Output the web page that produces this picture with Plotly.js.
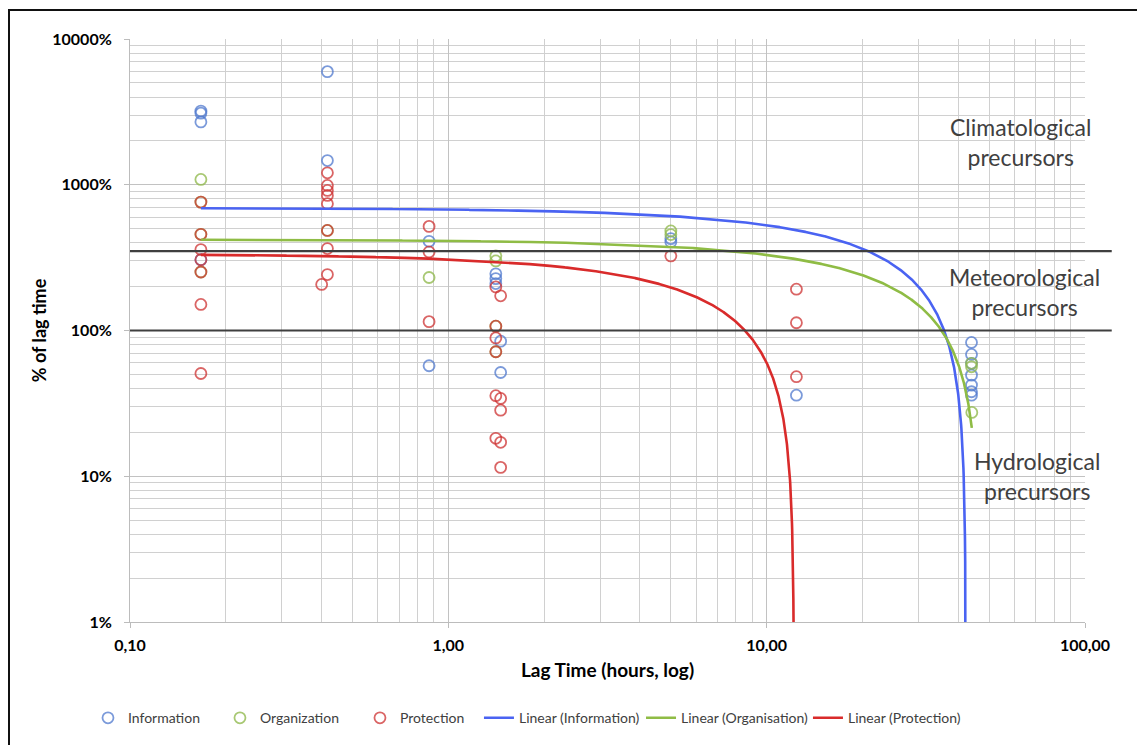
<!DOCTYPE html>
<html>
<head>
<meta charset="utf-8">
<script src="https://cdn.plot.ly/plotly-3.0.1.min.js"></script>
<style>
  html, body { margin: 0; padding: 0; background: #fff; }
  #chart { width: 1137px; height: 745px; }
  #frame { position: absolute; left: 8px; top: 9px; width: 1300px; height: 900px;
           border-top: 2px solid #111; border-left: 2px solid #111; pointer-events: none; }
</style>
</head>
<body>
<div id="chart"></div>
<div id="frame"></div>
<script>
// ---- Data (lag time in hours, % of lag time) ----
const infoX = [0.167, 0.167, 0.167, 0.167, 0.417, 0.417, 0.87, 0.87, 1.41, 1.41, 1.41, 1.46, 1.46, 5.0, 5.0, 12.4, 44, 44, 44, 44, 44, 44, 44];
const infoY = [3200, 3100, 2700, 306, 5970, 1466, 409, 57.3, 245, 227, 210, 84.5, 51.5, 427, 405, 36, 82.8, 68.5, 59.5, 49.4, 42.2, 38, 36];

const orgX = [0.167, 0.167, 0.167, 0.167, 0.417, 0.87, 1.41, 1.41, 1.41, 1.41, 5.0, 5.0, 44, 44, 44.1];
const orgY = [1087, 760, 457, 252, 486, 231, 325, 300, 107, 71.5, 482, 455, 59.5, 56.4, 27.4];

const protX = [0.167, 0.167, 0.167, 0.167, 0.167, 0.167, 0.167,
               0.417, 0.417, 0.417, 0.417, 0.417, 0.417, 0.417, 0.417, 0.40,
               0.87, 0.87, 0.87,
               1.41, 1.46, 1.41, 1.41, 1.41, 1.41, 1.46, 1.46, 1.41, 1.46, 1.46,
               5.0, 12.4, 12.4, 12.4];
const protY = [760, 457, 359, 306, 252, 151, 50.7,
               1208, 989, 914, 845, 741, 486, 365, 242, 207,
               518, 346, 115,
               199, 173, 107, 89, 71.5, 35.7, 34.2, 28.4, 18.2, 17.1, 11.5,
               325, 192, 113, 48.2];

// Linear trendlines (y = intercept - slope * x)
const trendNames = ['Linear (Information)', 'Linear (Organisation)', 'Linear (Protection)'];
const trendIntercept = [692, 421, 335];
const trendSlope = [16.4, 9.06, 27.5];
const trendXmin = [0.167, 0.167, 0.167];
const trendXmax = [44, 44.1, 12.4];

// Band boundaries (% of lag time)
const bandLines = [350, 100];
const bandLabels = ['Climatological<br>precursors', 'Meteorological<br>precursors', 'Hydrological<br>precursors'];

// Axis ticks
const xTickVals = [0.1, 1, 10, 100];
const xTickText = ['0,10', '1,00', '10,00', '100,00'];
const yTickVals = [1, 10, 100, 1000, 10000];
const yTickText = ['1%', '10%', '100%', '1000%', '10000%'];

// ---- Styles ----
const FONT = 'Lato, "Open Sans", "DejaVu Sans", sans-serif';
const markerColors = ['rgba(79,120,205,0.75)', 'rgba(146,186,80,0.8)', 'rgba(205,50,50,0.75)'];
const lineColors = ['#4a63f2', '#8fbc45', '#d92b2b'];

function trendLine(i) {
  const b = trendIntercept[i], m = trendSlope[i];
  const x0 = trendXmin[i];
  const root = b / m;
  const x1 = Math.min(trendXmax[i], root * 0.99995);
  const xs = [], ys = [];
  const N = 3000;
  for (let k = 0; k <= N; k++) {
    const x = x0 * Math.pow(x1 / x0, k / N);
    xs.push(x); ys.push(b - m * x);
  }
  return {xs, ys};
}

const mk = (x, y, name, c, lg) => ({
  x, y, name, type: 'scatter', mode: 'markers', cliponaxis: false, legend: lg,
  marker: {symbol: 'circle-open', size: 11, color: c, line: {width: 1.8, color: c}}
});

const traces = [
  mk(infoX, infoY, 'Information', markerColors[0], 'legend'),
  mk(orgX, orgY, 'Organization', markerColors[1], 'legend2'),
  mk(protX, protY, 'Protection', markerColors[2], 'legend3')
];
for (let i = 0; i < 3; i++) {
  const t = trendLine(i);
  traces.push({x: t.xs, y: t.ys, name: trendNames[i], type: 'scatter', mode: 'lines',
    legend: 'legend' + (i + 4),
    line: {color: lineColors[i], width: 2.6}});
}

const shapes = bandLines.map(v => ({
  type: 'line', xref: 'paper', yref: 'y', x0: 0, x1: 1.028, y0: v, y1: v,
  line: {color: '#3f3f3f', width: 2.2}, layer: 'above'
}));

const annPos = [[0.932, 0.8236], [0.937, 0.566], [0.950, 0.2509]];
const annotations = bandLabels.map((t, i) => ({
  text: t, xref: 'paper', yref: 'paper', x: annPos[i][0], y: annPos[i][1],
  xanchor: 'center', yanchor: 'middle', showarrow: false, align: 'center',
  font: {family: FONT, size: 23, color: '#404040'}
}));

const axisCommon = {
  type: 'log', showgrid: true, gridcolor: '#c2c2c2', gridwidth: 1,
  showline: true, linecolor: '#bcbcbc', linewidth: 1,
  ticks: 'outside', ticklen: 5, tickcolor: '#bcbcbc',
  tickmode: 'array', zeroline: false,
  tickfont: {family: FONT, size: 16, color: '#000', weight: 'bold'},
  minor: {dtick: 'D1', showgrid: true, gridcolor: '#d0d0d0', gridwidth: 1, ticks: ''}
};

const legendFont = {family: FONT, size: 14, color: '#404040'};
const legendPos = [-0.044, 0.0942, 0.2408, 0.3654, 0.5351, 0.7099];
const mkLegend = x => ({orientation: 'h', x: x, xanchor: 'left', y: -0.163, yanchor: 'middle',
  font: legendFont, itemwidth: 30, bgcolor: 'rgba(0,0,0,0)'});

const layout = {
  width: 1137, height: 745,
  margin: {l: 130, r: 52, t: 39, b: 122},
  paper_bgcolor: '#fff', plot_bgcolor: '#fff',
  showlegend: true,
  legend: mkLegend(legendPos[0]),
  legend2: mkLegend(legendPos[1]),
  legend3: mkLegend(legendPos[2]),
  legend4: mkLegend(legendPos[3]),
  legend5: mkLegend(legendPos[4]),
  legend6: mkLegend(legendPos[5]),
  xaxis: Object.assign({}, axisCommon, {
    range: [-1, 2], tickvals: xTickVals, ticktext: xTickText, ticklabelstandoff: 4,
    title: {text: 'Lag Time (hours, log)', standoff: 10,
      font: {family: FONT, size: 19, color: '#000', weight: 'bold'}}
  }),
  yaxis: Object.assign({}, axisCommon, {
    range: [0, 4], tickvals: yTickVals, ticktext: yTickText, ticklabelstandoff: 9,
    title: {text: '% of lag time', standoff: 0,
      font: {family: FONT, size: 18, color: '#000', weight: 'bold'}}
  }),
  shapes, annotations
};

Plotly.newPlot('chart', traces, layout, {displayModeBar: false, staticPlot: true});
</script>
</body>
</html>
